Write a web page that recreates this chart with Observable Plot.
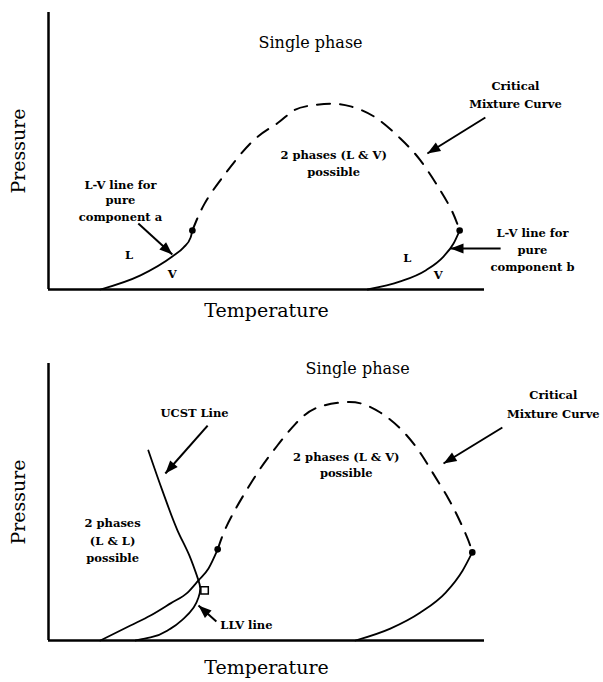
<!DOCTYPE html>
<html>
<head>
<meta charset="utf-8">
<script src="https://cdn.jsdelivr.net/npm/d3@7"></script>
<script src="https://cdn.jsdelivr.net/npm/@observablehq/plot@0.6"></script>
<style>
  body { margin: 0; background: #fff; }
  #chart > div { line-height: 0; }
</style>
</head>
<body>
<div id="chart"></div>
<script>
// ---------- DATA (Temperature / Pressure in arbitrary units 0-100) ----------
// Top diagram
const topLVa = [[11.9,0],[21.1,5.1],[28.4,11.9],[31.0,15.2],[32.6,18.8],[33.0,21.3]];
const topLVb = [[73.2,0],[80.7,2.9],[86.5,6.9],[90.6,11.9],[92.9,16.6],[94.3,21.3]];
const topCritical = [[33.0,21.3],[35.8,31.0],[40.4,41.5],[47.0,53.8],[52.5,60.0],[56.2,64.6],[60.1,66.4],[64.7,67.1],[69.3,66.1],[75.0,62.1],[80.7,54.5],[85.3,46.6],[89.9,35.7],[92.7,27.8],[94.3,21.3]];
const topCriticalPoints = [[33.0,21.3],[94.3,21.3]];
const topTitle = [{text: "Single phase", T: 60.1, P: 89.2}];
const topLabels = [
  {text: "Critical", T: 107.1, P: 73.3},
  {text: "Mixture Curve", T: 107.1, P: 66.8},
  {text: "2 phases (L & V)", T: 65.4, P: 48.4},
  {text: "possible", T: 65.4, P: 42.2},
  {text: "L-V line for", T: 16.5, P: 37.5},
  {text: "pure", T: 16.5, P: 32.1},
  {text: "component a", T: 16.5, P: 26.0},
  {text: "L", T: 18.5, P: 12.3},
  {text: "V", T: 28.4, P: 5.6},
  {text: "L", T: 82.3, P: 11.2},
  {text: "V", T: 89.4, P: 5.1},
  {text: "L-V line for", T: 111.0, P: 20.2},
  {text: "pure", T: 111.0, P: 14.1},
  {text: "component b", T: 111.0, P: 7.9}
];
const topArrows = [
  {T1: 20.6, P1: 23.8, T2: 28.4, P2: 12.6},
  {T1: 100.2, P1: 62.1, T2: 86.9, P2: 49.1},
  {T1: 103.7, P1: 14.8, T2: 92.2, P2: 14.8}
];

// Bottom diagram
const botLVa = [[11.9,0],[18.8,5.4],[23.4,9.0],[28.0,13.4],[31.9,17.3],[34.4,21.7],[36.7,26.0],[38.8,32.9]];
const botLLV = [[20.0,0],[23.4,1.1],[28.0,4.3],[31.0,7.9],[33.3,11.9],[34.4,15.5],[34.8,18.8],[34.4,21.7]];
const botUCST = [[22.9,68.6],[26.1,54.2],[29.6,39.7],[32.3,30.7],[34.4,21.7]];
const botLVb = [[70.4,0],[78.4,4.3],[85.3,10.1],[91.1,17.3],[95.0,25.3],[97.2,31.8]];
const botCritical = [[38.8,32.9],[40.4,39.7],[42.7,46.9],[45.4,54.2],[48.6,62.1],[52.5,70.4],[56.7,78.3],[61.2,83.8],[67.0,85.9],[71.6,85.6],[76.1,82.3],[80.7,76.5],[84.9,68.6],[88.1,60.6],[91.7,51.3],[94.5,42.6],[96.3,36.1],[97.2,31.8]];
const botCriticalPoints = [[38.8,32.9],[97.2,31.8]];
const botUCEP = [[35.8,18.1]];
const botTitle = [{text: "Single phase", T: 70.9, P: 98.2}];
const botLabels = [
  {text: "Critical", T: 115.8, P: 88.4},
  {text: "Mixture Curve", T: 115.8, P: 81.6},
  {text: "2 phases (L & V)", T: 68.3, P: 66.1},
  {text: "possible", T: 68.3, P: 60.3},
  {text: "UCST Line", T: 33.5, P: 81.9},
  {text: "2 phases", T: 14.7, P: 42.2},
  {text: "(L & L)", T: 14.7, P: 35.7},
  {text: "possible", T: 14.7, P: 29.6},
  {text: "LLV line", T: 45.4, P: 5.4}
];
const botArrows = [
  {T1: 36.5, P1: 77.6, T2: 26.8, P2: 60.3},
  {T1: 38.5, P1: 6.9, T2: 34.4, P2: 12.6},
  {T1: 104.1, P1: 76.9, T2: 90.6, P2: 63.9}
];

const axisTitles = {x: "Temperature", y: "Pressure"};

// ---------- DRAWING ----------
const SVGNS = "http://www.w3.org/2000/svg";
function filledHead(color, context) {
  const doc = (context && context.document) || document;
  const m = doc.createElementNS(SVGNS, "marker");
  m.setAttribute("markerUnits", "userSpaceOnUse");
  m.setAttribute("markerWidth", "14");
  m.setAttribute("markerHeight", "10");
  m.setAttribute("orient", "auto");
  m.setAttribute("refX", "0");
  m.setAttribute("refY", "0");
  m.setAttribute("overflow", "visible");
  const p = doc.createElementNS(SVGNS, "path");
  p.setAttribute("d", "M-13,-5L0,0L-13,5Z");
  p.setAttribute("fill", color);
  p.setAttribute("stroke", "none");
  m.appendChild(p);
  return m;
}

const toObj = a => a.map(([T, P]) => ({T, P}));

function arrowMarks(arrows, useCustom) {
  return useCustom
    ? [Plot.link(arrows, {x1: "T1", y1: "P1", x2: "T2", y2: "P2", stroke: "black", strokeWidth: 2, markerEnd: filledHead})]
    : [Plot.arrow(arrows, {x1: "T1", y1: "P1", x2: "T2", y2: "P2", stroke: "black", strokeWidth: 2, headLength: 11})];
}

function diagram(cfg, useCustom) {
  const line = (d, curve, extra = {}) => Plot.line(toObj(d), {x: "T", y: "P", curve, stroke: "black", strokeWidth: 1.8, ...extra});
  const marks = [
    Plot.ruleX([0], {y1: 0, y2: 100, stroke: "black", strokeWidth: 2.5}),
    Plot.ruleY([0], {x1: 0, x2: 100, stroke: "black", strokeWidth: 2.5}),
    ...cfg.solidX.map(d => line(d, "monotone-x")),
    ...(cfg.solidY || []).map(d => line(d, "monotone-y")),
    line(cfg.critical, "natural", {strokeDasharray: "13,10", strokeWidth: 2}),
    Plot.dot(toObj(cfg.points), {x: "T", y: "P", r: 3.3, fill: "black", stroke: "none"}),
    ...(cfg.squares ? [Plot.dot(toObj(cfg.squares), {x: "T", y: "P", symbol: "square", r: 4.2, fill: "white", stroke: "black", strokeWidth: 1.5})] : []),
    ...arrowMarks(cfg.arrows, useCustom),
    Plot.text(cfg.title, {x: "T", y: "P", text: "text", fontSize: 16, fill: "black"}),
    Plot.text(cfg.labels, {x: "T", y: "P", text: "text", fontSize: 11.5, fontWeight: "bold", fill: "black"}),
    Plot.text([axisTitles.x], {frameAnchor: "bottom", dy: cfg.xTitleDy, fontSize: 19, fill: "black"}),
    Plot.text([axisTitles.y], {frameAnchor: "left", textAnchor: "middle", dx: -30, rotate: -90, fontSize: 19, fill: "black"})
  ];
  const opts = {
    width: 603, height: cfg.height,
    marginLeft: 48, marginRight: 119, marginTop: cfg.marginTop, marginBottom: cfg.marginBottom,
    x: {domain: [0, 100], axis: null},
    y: {domain: [0, 100], axis: null},
    style: {fontFamily: "'DejaVu Serif', serif", background: "white", overflow: "visible", color: "black"},
    marks
  };
  return Plot.plot(opts);
}

const cfgs = [
  {height: 330, marginTop: 12, marginBottom: 41, xTitleDy: 27,
   solidX: [topLVa, topLVb], critical: topCritical, points: topCriticalPoints,
   title: topTitle, labels: topLabels, arrows: topArrows},
  {height: 352, marginTop: 33, marginBottom: 42, xTitleDy: 33,
   solidX: [botLVa, botLVb], solidY: [botLLV, botUCST], critical: botCritical, points: botCriticalPoints,
   squares: botUCEP, title: botTitle, labels: botLabels, arrows: botArrows}
];

const root = document.getElementById("chart");
for (const cfg of cfgs) {
  let svg;
  try { svg = diagram(cfg, true); } catch (e) { svg = diagram(cfg, false); }
  const wrap = document.createElement("div");
  wrap.appendChild(svg);
  root.appendChild(wrap);
}
</script>
</body>
</html>
